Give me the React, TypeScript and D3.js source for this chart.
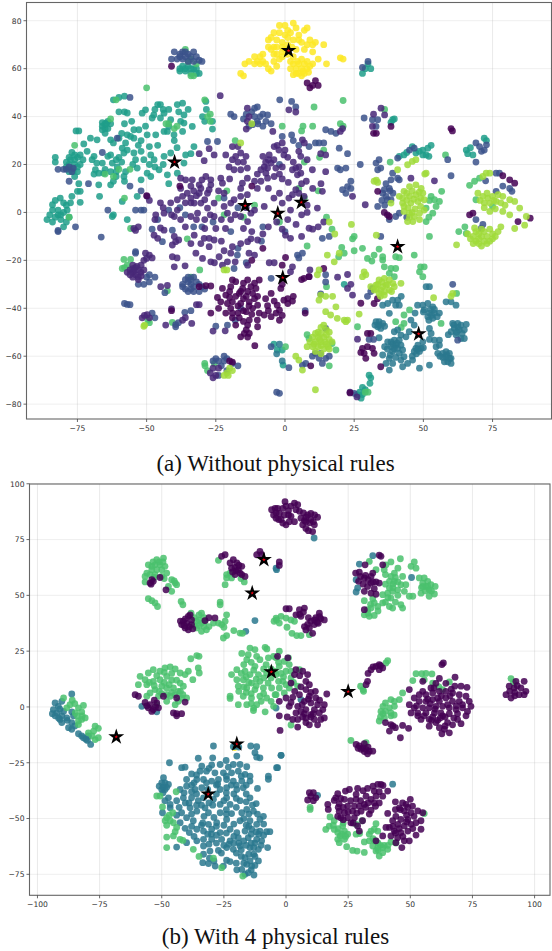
import React from "react";
import * as d3 from "d3";

type P = number[];
const yellowA: P[] = [[-4,69],[-3,72],[-2,75],[-1,71],[0,74],[1,76],[3,79],[4,77],[0,78],[-3,66],[-2,64],[-1,67],[1,70],[3,72],[5,74],[6,71],[8,70],[9,72],[10,70],[7,76],[8,77],[14,70],[4,68],[3,65],[-5,73],[-5,68],[-6,72],[-4,63],[-13,63],[-14.5,62],[-11,65],[-10,63],[-9,65],[-8,63],[-7,62],[-6,60],[-5,59],[-8,66],[-16,58],[-15,57],[3,62],[4,60],[5,62],[6,60],[7,62],[8,60],[9,61],[10,62],[5,58],[6,57],[4,58],[7,58],[8,63],[12,64],[15,62],[20,64.5],[21,64],[10,67],[2,63],[3,57.5],[-1,69],[1,73],[-3,69],[0,68],[-4,75],[-2,78],[2,75],[5,72],[7,68],[11,71],[-6,69],[-4,66],[-3,61],[-9,62],[-11,62],[4.5,63],[6,64],[8.5,58.5],[2,60],[6.5,59],[-1,65],[1,66],[2.5,69]];
const limeA: P[] = [[-12,37],[-16,29],[43,8.8],[45,10.8],[47.3,11.5],[49.2,10],[42.5,6],[45,6.7],[47.3,7.4],[49.8,8],[43,2.5],[45.5,3.9],[48,4.6],[50.3,5.3],[43,0.4],[45,-0.3],[46.7,-1.7],[48.6,-0.3],[46.2,-3.8],[44.3,-3.8],[48.6,-3],[50.3,1],[41.3,6.7],[42.5,3.9],[51,16.4],[50.5,16],[46,21.3],[44.3,19.9],[47.3,22],[40.7,17.8],[32.2,13],[33.5,12.5],[33,13.5],[38.3,3.9],[72.7,16.4],[71.5,15],[74,16.4],[69.7,8],[71.5,6.7],[73.3,6],[75,6.7],[77,7.4],[78.7,6.7],[81.2,5.3],[83,4.6],[74,3.9],[76.3,4.6],[72,4],[74,0.4],[78.7,0.4],[84.8,1.8],[81.2,-1],[87.2,-1.7],[67,-11],[68,-10],[69,-12],[70,-9],[71,-10],[72,-8],[73,-10],[74,-7],[75,-9],[70,-13],[72,-12],[74,-12],[76,-10],[77,-8],[69,-8],[66,-9],[62,-13.5],[71,-7],[78,-6],[68,-13],[71,-14],[83,-6.7],[86.6,-5.3],[32.9,-30.3],[34,-28.2],[35.9,-27.5],[37.7,-28.2],[39,-29.6],[32.2,-32.4],[34,-33.8],[35.9,-34.5],[37.7,-32.4],[35.3,-31],[36.5,-30.3],[39.5,-31],[41.9,-29.6],[28.6,-24.8],[28,-26.8],[29.2,-26],[34.6,-32.4],[33.5,-30],[36,-33],[53.7,-35.6],[60.6,-33.8],[60,-35],[26.8,-42.4],[19.6,-17],[15.3,-17.8],[17.8,-20.6],[12.3,-24],[11.7,-26],[12.9,-34.5],[14.7,-35],[17.2,-35],[12.3,-36.6],[18.4,-39.4],[14.7,-41.4],[16.5,-42.8],[18.9,-44.2],[21.4,-44.9],[22.6,-44.9],[22,-45.6],[12,-50],[13,-48],[14,-47],[15,-49],[16,-50],[10,-52],[12,-52],[14,-52],[16,-53],[9,-54],[11,-54],[13,-54],[15,-55],[17,-54],[8,-56],[10,-56],[12,-56],[14,-57],[16,-57],[11,-58],[13,-59],[11,-74],[3.9,-60],[5,-61.6],[6.3,-65.8],[-19,-66],[-20,-65],[-21,-67],[-22,-68],[-20.5,-68],[-21,-24],[-22,-24],[-50.7,-47],[-51,-47.5],[33,-9.5],[24,-5],[18,-9],[16,-4],[44,8],[46,9],[48.5,8.5],[44,5],[46.5,5.5],[49,6],[44.5,2],[47,1.5],[49,2.5],[46,0],[45,-2],[70.5,5],[73,8],[75.5,5],[78,4],[72,2],[76,1.5],[79.5,3],[70,-11],[73,-13],[75,-11],[68.5,-6.5],[33,-32],[35,-29],[37,-30],[38.5,-33],[34.5,-35],[31,-31],[11,-50.5],[13,-50.5],[15,-51],[12.5,-53],[14.5,-54],[10.5,-55],[13,-55.5],[15.5,-56]];
const greenA: P[] = [[-50,52],[-33,57],[-34,57],[-35,63],[-34,64],[-36,68],[-32,62],[-63,39],[-61,47],[-29,47],[-27,41],[-27,38],[-28,40],[-40,35],[-39,36],[-42,37],[-43,37],[-58.2,-19.6],[-58.8,-23.4],[-57,-22],[-55.8,-19.6],[-58,-23],[-30.8,-24],[-34,-27],[-35.3,-11],[-42.5,-32.7],[-40.7,-45.9],[-49,-46],[-49.5,-45],[-55.8,-6.7],[-28.9,-64],[-28,-66],[-25.5,-63],[-29,-63],[-22,-1],[-15,-2],[-18,30],[-21,9],[-24,6],[-11,3],[-58,6],[-56,18],[-60,18],[-62,15],[-65,16],[-78,-2],[-76,28],[10.5,44],[21,46.7],[36,43],[-1,36],[10,36],[6.5,36],[6,34],[21,36],[20,37],[12.5,23],[14,26],[5,10],[12,9],[7,6],[15,-2],[17,-7],[7,21],[38,21],[-2,-4],[52.2,5],[52.8,6.7],[54,5.3],[55.8,4.6],[56.6,8.8],[54.6,2.5],[51,1.8],[53.4,-0.3],[51,-3.8],[52,-2],[68.5,13],[66.7,11.3],[70.3,14.3],[69,5.3],[75,2.5],[62.8,-8],[65,-6],[65.5,-8.8],[58,24],[24.4,-11],[25,-10],[20.5,-14.6],[21.4,-17],[25,-16],[28,-15],[19.4,-18.5],[29.8,-19.2],[32.2,-17.8],[34,-15.3],[35.3,-18.5],[35.3,-19.9],[31.4,-20.3],[40,-18.5],[41.3,-18.9],[46.7,-17.8],[52.2,-10],[35.9,-22.7],[38.3,-23.4],[40,-23.4],[37.7,-25.4],[39.5,-26.8],[49,-22.7],[50.3,-22.7],[48.6,-24.8],[49.8,-26.8],[26.2,-47.7],[43,-42.8],[45,-40.7],[62,-33.8],[56.4,-46.3],[43,-46.3],[40,-45.6],[8,-51],[8.7,-52.6],[18.4,-57.4],[17,-54.7],[0.2,-56],[16,-64],[15,-31],[8,-14],[29,-75],[30,-75],[42,-48]];
const tealA: P[] = [[-75.5,34],[-74.5,34],[-72.7,28.6],[-70.3,31],[-67.9,30.3],[-65,37],[-64,38],[-66,36],[-64,35],[-65,35],[-63,37],[-66,37.5],[-62,47],[-60,48],[-58,48.5],[-60,42],[-58,42],[-57,41.5],[-55.4,38],[-58,37],[-77.5,22],[-76,22],[-78,20],[-76,20],[-74,20],[-77,18],[-75,19],[-78,23],[-76,24],[-79,19],[-75,17],[-73,22],[-74,24],[-83,23],[-83,21],[-76,15],[-71.5,25.5],[-69,23.4],[-69.7,22],[-68,20.6],[-66,20.6],[-64,23.4],[-63,24],[-62.4,20.6],[-61,22],[-60.6,19],[-63,17],[-61,17],[-65.5,16.4],[-67.3,16.4],[-69,16],[-68.5,17.8],[-67.3,11.5],[-63,11.5],[-62,13],[-61,15],[-58.2,15],[-58,13],[-57.6,17],[-63,30.3],[-62,29],[-57.6,29],[-58.8,26.8],[-57,26],[-58.2,24.8],[-54.6,24.8],[-52,25.5],[-54,22],[-51,22],[-49,27.5],[-49.8,32.4],[-46.7,32.4],[-50.4,36],[-52.8,34.5],[-54.6,34.5],[-57,32.4],[-55.8,31.7],[-54.6,31],[-46,28],[-48.5,24],[-47.3,22],[-43.7,23.4],[-49.8,16.4],[-48.5,15],[-45.5,17.8],[-42.5,15.7],[-42,12],[-53.4,18.5],[-52,13.6],[-53.4,6.7],[-58.8,4.6],[-67,6.7],[-74.5,12],[-75,8.8],[-74,8.8],[-74,4.2],[-77,6.7],[-81.2,6],[-84,3.2],[-84,1],[-78.7,1],[-80,0],[-77.5,4],[-79,3],[-62.4,-1.7],[-62,-1],[-57,-3],[-51.6,41.4],[-50.4,42.8],[-47.4,40.7],[-48,39.4],[-46,45],[-45,45],[-43.7,41.4],[-45,39.4],[-41.3,38.7],[-38.9,45],[-37,45.6],[-38.4,42],[-36.5,40.7],[-37.7,38],[-36.5,37.3],[-33.5,35.9],[-28.6,46.3],[-28.4,43],[-29.8,40],[-29,38],[-26.2,38],[-26.2,34.8],[-40.1,32.4],[-40,30],[-37,33.8],[-32.9,27.5],[-35.9,24],[-34,24.5],[-36.5,20.6],[-41.3,24.8],[-42.5,33.8],[-42,35.9],[-43.7,33.8],[-38.9,16.4],[-38,60],[-37,61],[-36,60],[-35,61],[-34,60],[-33,60],[-38,59],[-36,59],[-34,58],[-32,60],[-31,58],[-32,58],[-83,-2],[-82,-1],[-81,-3],[-80,-6],[-78,-2],[-86,-3],[-85,-1],[-84,-4],[29,60],[30,62],[28,58],[31,60],[38.9,38.7],[38.3,37.6],[39.5,39],[46,27.5],[47.3,24.8],[48.5,25.5],[49.8,24],[51,24],[52,23.4],[49.8,26],[41.3,23.4],[43,24],[44,25],[52.8,28],[51.6,26.8],[65.5,26],[66,24.5],[67,27],[67.9,24],[72,31],[72.8,30],[-0.7,-63.7],[-2.8,-57.4],[-1,-57.4],[-4,-55],[21.4,-30],[27,-75],[28,-73],[29,-74],[28,-76],[27.5,-77.5],[26,-76],[30.4,-67.9],[31,-69],[30.7,-71.3],[-65,33],[-66,34.5],[-64.5,37],[-76.5,17],[-78,17],[-79,21],[-77,25],[-75,23],[-60,23],[-65,18],[-59,21],[-55,20],[-47,19],[-44,20],[-53,28],[-60,31],[-59,33],[-49,20],[-52,30],[-42,43],[-44,43],[-47,43],[-35,43],[-39,27],[-82,1],[-81,-1],[-79,-4],[-83,5],[-80,4]];
const cyanA: P[] = [[35.3,-38.7],[37.1,-38],[38.9,-36.6],[40.7,-36.6],[42,-35],[40,-38.7],[41.3,-38.7],[37.7,-42.1],[32.9,-45.6],[34,-45.6],[35.3,-46.3],[33.5,-47.7],[34.6,-48.4],[34,-52.3],[47.9,-38.7],[49.8,-38.7],[51.6,-38],[53.4,-39.4],[50.3,-40.7],[52.2,-42],[54,-42],[55.8,-42],[51.6,-43.5],[53.4,-44.2],[47,-42],[52.2,-31],[51,-31],[58.2,-37.3],[60,-37.3],[61.8,-38.7],[45.5,-44.9],[46.7,-47],[44.9,-49.8],[43.7,-51.9],[52.2,-48.4],[52.8,-50.5],[52.2,-53],[49.8,-54],[54,-53.3],[55.8,-53.3],[55.8,-55.4],[54.6,-56],[60.6,-46.3],[62.4,-46.3],[63.6,-47],[65.5,-46.7],[61.2,-48.4],[63,-49],[64.8,-49],[60,-49.8],[61.8,-51],[59,-51],[63.6,-52.6],[64.8,-52.6],[58.2,-58.1],[59.4,-58.8],[57,-58.8],[55.2,-58.8],[58.2,-60.2],[60,-60.9],[58.8,-62.3],[60,-63],[57.6,-62.3],[48.6,-65],[52.2,-63.7],[46.1,-61.6],[46,-60],[49.2,-56.7],[47.3,-56.7],[48.6,-58],[46.7,-58],[48,-55.4],[41.3,-53.3],[39.5,-53.3],[38.3,-54],[37.1,-54],[41.9,-55.4],[40,-55.4],[38.3,-56],[40.7,-56.7],[42.5,-57.4],[38.9,-58],[41.3,-58.8],[43,-60.2],[41.9,-61.6],[44.3,-63],[42.5,-64.4],[37.7,-65.8],[35.3,-59.5],[37.7,-60.9],[38.9,-63],[36.5,-63],[39.5,-49.8],[41.9,-51.2],[40.7,-49],[-1,-62],[-3,-59],[-2,-55],[39,-55],[40.5,-54.5],[39.5,-57],[37,-57],[36,-56],[38,-59.5],[40,-60.5],[50,-41.5],[52.5,-40.5],[54,-40.5],[52,-45],[53,-43],[55,-43.5],[62.5,-48],[61,-47],[64,-50.5],[62,-50],[58.5,-59.5],[59.5,-61],[57,-60.5],[56,-60],[47.5,-59],[48,-57],[50,-56.5],[34,-47],[32.5,-47],[36,-47.5]];
const blueA: P[] = [[-40,67],[-38,66],[-37,67],[-36,67],[-35,66],[-33,67],[-37,64],[-38,65],[-35,63],[-33,63],[-31,63.5],[-30,63],[-56,48],[-82,18],[-80,18],[-79,18],[-78,19],[-77,17],[-76.5,18.5],[-71,12],[-78,13],[-60.6,31],[-66,25],[-56,11],[-52,9],[-54,1],[-52,1],[-51,1],[-64,1],[-28,29.6],[-24.4,29.6],[-19.6,41],[-18.4,40],[-11,43.5],[-10,44],[-11,40],[-9,40],[-11.7,36.6],[-9.8,37],[-6.9,38],[-5,37],[-8,41],[-6.3,40.7],[-13,36],[-15,39],[-1.9,47],[2.4,46.3],[3.9,44],[28.6,39.4],[32.9,35.9],[31.6,38.7],[33.5,38.7],[14.7,34.5],[16.6,33.8],[18.4,33],[-1,31.7],[2.4,32.3],[8.7,27.5],[11,29],[12.3,29],[14,29],[19.6,26.8],[22.6,24.5],[19,18.5],[20,17.8],[22,18.5],[23.8,13],[23.8,10],[22.6,10.8],[20.8,9.5],[22,8],[27.2,20],[32.9,20.6],[34,22],[34.6,18.5],[33.5,17.8],[38.9,16.4],[38.3,13.6],[41.3,13.6],[40.7,22.7],[45,26],[46.7,26.8],[35.9,9.5],[37.7,10],[39,8],[36.5,6.7],[38.3,5.3],[35.3,8],[33.5,2.5],[60,15.3],[58.8,22],[69,29],[72,26],[71,25.5],[72.8,28.2],[70.3,27.5],[69,21],[76.3,16.4],[77.5,16.4],[78.7,11],[81.2,10],[82,8.8],[76.3,8.8],[72.5,13.2],[69,-3],[70.9,-6.7],[71.5,-5],[40.7,14.3],[37,5.3],[40,-1.7],[41.3,-0.3],[44,-2],[37.7,-3],[28,60.5],[30,63],[-82,-8],[-82,-7.5],[-66.4,-10.3],[-75.7,-6],[-44.3,-12.2],[-40.7,-7.4],[-50,-27],[-49,-29],[-51,-30],[-47,-27],[-49,-26],[-53,-30],[-54,-16.4],[-54,-17],[-35,-27],[-33,-27],[-32,-29],[-34,-30],[-36,-28],[-37,-30],[-31,-30],[-30,-31],[-29,-32],[-33,-33],[-31,-33],[-35,-33],[-36,-32],[-43.4,-33.5],[-57,-38.4],[-56,-38.5],[-58,-38],[-36.2,-41.7],[-39.5,-47.7],[-39.5,-46.8],[-38.5,-46],[-47,-44],[-48,-42],[-20.8,-47],[-25,-47.5],[-22,-60],[-24,-62],[-25,-61],[-26,-62],[-23,-64],[-22,-62],[-21,-66],[-19,-63],[-24,-68],[-21,-61],[-17,-64],[-3,-75],[-2,-75.5],[-5,-56],[-5,-27.5],[-17.2,-17.8],[-18.4,-23.4],[-17,-15],[-8.5,-12],[-19.6,-8],[-16,-40],[-18,-45],[11,-58.8],[12.9,-58.8],[9.9,-60],[12.3,-60.9],[14.7,-60.9],[16,-60],[14.7,-48.4],[13.5,-63],[6.3,-63.7],[7.5,-63],[1.4,-64.8],[14.7,-26],[14.7,-29],[29.8,-35],[31.6,-31.7],[31,-33],[30.4,-53],[32,-53],[25,-75.5],[62.4,-53.3],[60.6,-30],[12.9,-34],[7.3,-41],[4.5,-17.8],[6.3,-17],[5,-19],[13.5,-10.8],[16,-10],[34.6,-10],[0,-8],[-34,-41],[-36,-1],[-46,-3],[-30,-6],[-26,-4],[-10,38],[-8,36],[-12,42],[-14,41],[-39,64],[-36,65],[-34,65],[-32,65],[-41,64],[-37,-31],[-34,-28],[-33,-31],[-34,-32],[-35,-29],[-2,20],[-14,-21],[-38,2],[-42,1],[-48,-7],[-33,-6],[-17,2],[-22,6],[-8,-6],[3,30],[5,28],[36.5,12],[35,5],[38,9],[36,3]];
const indigoA: P[] = [[-31,24.5],[-29.2,21.6],[-27.4,26.6],[-25.6,24],[-20.2,19],[-18.4,17.8],[-16,17.8],[-13.6,18.5],[-19,27.5],[-17,27.5],[-14.1,23.4],[-16,24.8],[-17.8,23.4],[-21.4,24],[-15.4,12.2],[-13.6,14.3],[-11,13],[-8.7,13],[-6.9,16.4],[-8,23.4],[-5.7,24],[-3.9,27.5],[-5,20.6],[-3.3,18.5],[-6.3,18.5],[-7.5,19],[-8.7,17.8],[-6.3,14.3],[-3.9,15],[-28.6,15],[-30,13.6],[-26.8,13.6],[-26.8,11.5],[-23.2,14.3],[-22.6,12.2],[-30.4,10],[-31,11.5],[-33.5,13.6],[-35.9,13.6],[-37.7,14.3],[-27.4,9.5],[-37.7,10],[-37,6.7],[-38.9,5.3],[-35.3,8],[-34,6],[-32.8,3.9],[-30.4,3.9],[-29,5.3],[-28,1.8],[-25.6,3.9],[-22,2.5],[-19.6,3.9],[-18.4,5.3],[-16,6.7],[-13.6,7.4],[-10,10],[-11,1],[-7.5,2.5],[-20.8,-0.3],[-19.6,-3],[-16,-1.7],[-12.3,-0.3],[-13.5,-3.8],[-45,4],[-41.3,4],[-38.9,1],[-43.7,-0.3],[-40,-1.7],[-37.7,-3],[-31.6,-0.3],[-34,-1.7],[-25.6,-1.7],[-29,-3],[-46.7,-1],[-49.8,6.7],[-49,5],[-23.4,48.7],[-13.6,43.5],[-13,40],[-13.6,38],[-14,34.8],[-4.4,33.8],[3.9,41.9],[1.4,42.8],[20,33.8],[20.8,35],[32,41],[34.7,43.5],[36,40.7],[31.6,35.9],[6.3,30.3],[7,29],[-2.8,28],[-2.2,26],[0,26],[-0.4,24],[1,23],[5,25.5],[5.7,23.4],[8,22],[12.9,24.5],[14.7,24],[3.9,18.5],[5,19],[5.7,16.4],[2.7,17.8],[4.5,15.7],[9.9,17.8],[14.7,17],[1.2,12.5],[7.7,13],[3.9,9.5],[5,8],[2.7,7.4],[1.4,6],[6.9,6.7],[-1,3.9],[11.7,1.8],[13.5,8.8],[24.4,6.7],[29,3.2],[45.5,14.3],[54,13.2],[-1,29],[-1,19],[-1,14],[-55,-22],[-54,-23],[-53,-24],[-56,-24],[-55,-25],[-54,-26],[-52,-25],[-53,-27],[-51,-24],[-55,-27],[-57,-25],[-52,-22],[-53,-28],[-50.4,-17],[-49,-17.8],[-48,-19],[-50,-19.2],[-51,-20],[-54.6,-6.7],[-54,-7.5],[-53,-6],[-47.3,-9.5],[-46,-10.8],[-43.7,-7.4],[-45,-6.5],[-40.7,-13.6],[-39.5,-12.2],[-38.4,-11.5],[-32.8,-9.5],[-29.2,-10.8],[-27.4,-10.8],[-25.6,-11.5],[-32.2,-17],[-29.8,-19.2],[-40.7,-18.5],[-39,-19],[-40,-22.7],[-36.1,-22.3],[-30.4,-13],[-27.4,-14.3],[-23.8,-18.5],[-26.8,-20.6],[-25.5,-21],[-22.6,-22],[-20.8,-20.6],[-19,-14.3],[-19.6,-17],[-18,-20.6],[-13.5,-12.2],[-12.3,-11],[-9.9,-11.5],[-11,-17.8],[-13.5,-22],[-5.7,-21],[-3.9,-21],[-23,-12],[-21.5,-6.7],[-25,-6.7],[-29,-6.7],[-15,-6.7],[-12,-8],[-44.9,-31],[-42.5,-30.5],[-31,-38.5],[-32,-38.5],[-41,-40.3],[-36,-43.9],[-37,-45],[-33.7,-46.3],[-49.8,-42.7],[-51.6,-44],[-49,-44],[-50.8,-43],[-43.1,-47],[-26,-49.5],[-21.6,-49.4],[-26,-65],[-25,-68],[-24,-65],[-27,-67],[-26,-69],[8.7,-26.8],[9,-24],[22.6,-25.9],[23.8,-30],[22.6,-31.7],[24.4,-34.5],[19,-27],[2.7,-22.7],[2,-24.8],[23.5,-75],[26,-77],[26.2,-52.9],[6,-10],[4,-5],[14,-4],[10,-7],[12,-6],[0.2,-9.5],[2,-10.8],[-1,-7],[-3,-4],[8.7,-6.6],[-55,-23.5],[-53.5,-22.5],[-52,-26.5],[-54.5,-24.5],[-56,-26],[-34,4],[-36,4],[-32,7],[-28,8],[-24,9],[-22,8],[-16,10],[-14,2],[-18,-1],[-23,-3],[-27,-1],[-32,-3],[-41,-1],[-44,2],[-47,-3],[-36,-6],[-40,-10],[-34,-13],[-22,-16],[-16,-13],[-13,-17],[-8,-9],[-6,-6],[-6,10],[-2,8],[-4,6],[2,1],[-6,22],[-4,22],[-2,16],[-10,16],[-7,21],[3,21],[6,12],[10,10],[8,3],[13,12],[1,-3],[6,-1],[8,0],[-34,11],[-33,9],[-31,8],[-17,21],[-15,21],[-19,22],[-20,14]];
const darkA: P[] = [[-41,61],[-38,11],[-50,7],[-12,11],[38.3,35.9],[32,33],[33,33],[60,35],[60.5,34],[81.2,13.6],[83,12.2],[78.7,15.3],[67.9,-0.3],[66.7,-1],[88.6,-2.4],[84.2,-3.8],[33.5,8.8],[37.7,-1.7],[35.9,0],[37,-1],[8,54],[10,53],[12,53],[11,55],[9,52],[6,-28],[6.9,-27.5],[8.7,-26.8],[14,-23.4],[27.4,-37.9],[32.2,-38],[33.4,-36],[7.3,-42],[0.2,-18.8],[-1,-22],[-2.8,-38.7],[-2,-40.8],[-0.4,-36.6],[1,-36],[2.7,-37],[-1.5,-31.7],[-1,-30],[-2,-45],[-1,-43],[1,-38],[3,-35],[9.3,-64],[28,-56.7],[28.6,-58.8],[27.4,-58.4],[29.8,-56],[31.6,-56.7],[32.2,-58.8],[29.2,-60.9],[34.6,-64.4],[29.8,-50.5],[31,-50.5],[23.5,-75.3],[-31,-31],[-28.6,-30.6],[-26.8,-30.7],[-26.8,-42],[-19,-28.2],[-17.8,-28.9],[-19.6,-31],[-22.6,-31.7],[-24.4,-35.5],[-21.4,-34.5],[-23.2,-37.3],[-20.8,-38],[-19,-37.3],[-17.8,-35],[-16.5,-33.8],[-15.3,-31.7],[-13.5,-28.2],[-9.3,-28.2],[-12.3,-31],[-10.5,-31.7],[-13.5,-33],[-11.7,-33.8],[-14,-35],[-9.9,-35],[-12.9,-37.3],[-9.9,-38.7],[-5,-33.8],[-3.9,-37],[-6.3,-38.9],[-16,-38],[-19.6,-40],[-21.4,-42],[-19,-42],[-17,-42],[-14,-41.4],[-11.7,-40],[-9.3,-42],[-7.5,-42.8],[-5,-43.5],[-3.2,-42],[-19,-44],[-16.5,-44],[-12.9,-44.9],[-10,-44.9],[-17.8,-47],[-13.5,-47],[-9.9,-47.7],[-14.7,-50.5],[-12.9,-50.5],[-16,-51.9],[-13.5,-52],[-10.9,-55.6],[-20,-62],[-19,-62.5],[-8,-15],[-41,-41],[-12,-20],[-15,-36],[-17,-39],[-13,-39],[-11,-36],[-15,-41],[-12,-42.5],[-20,-35.5],[-15,-29.5],[-11,-29.5],[-7,-36],[-16,-33],[-6,-41],[-15,-45.5],[-14,-49],[-20,-33],[-24,-40]];

const yellowB: P[] = [[-20.7,-18.2]];
const greenB: P[] = [[-49.3,66.7],[-52,66],[-52.7,63.7],[-55.4,63.7],[-50.7,63.7],[-48.7,63],[-54,61.5],[-52,61.5],[-56,60],[-50,61.5],[-48,60],[-56.7,58.5],[-54.7,59.3],[-52.7,59.3],[-56.7,56],[-46,57],[-44.6,55.5],[-44,54.8],[-47.3,54],[-46,51.8],[-55.4,48.5],[-54,47.6],[-52.7,46.6],[-51.7,45],[-42.2,47.3],[-41.5,45.8],[-26.5,45.8],[-26.5,47],[-38.2,42],[-35,41.3],[-36,38.4],[-34,37.6],[-36,35.4],[-34,33.9],[-32,34.6],[-32.6,38.4],[-29.2,37.6],[-27.2,37.6],[-25.9,36.9],[-23.9,41.3],[-24.5,38.4],[-25,35.7],[-23.9,32],[-25.2,30.9],[-21,34.2],[-18.5,33.1],[-17.5,33],[-4.8,38.4],[-3.8,39],[-27.2,65.7],[-23.9,59.3],[-22.5,60],[-21.9,57.8],[-23.9,57.8],[-18.1,57.5],[-16.8,56],[-24.5,54.8],[33.5,65.2],[42.2,65],[46,66.4],[45,62.2],[51.6,65],[50.3,63],[52.3,62.2],[40.2,63.7],[36.2,61.5],[39.5,61.5],[43.6,60],[46.9,58.5],[42.2,58.5],[40,59.3],[41.6,56.3],[43.6,56.3],[46.2,54.8],[48.2,54.8],[41.6,53.3],[42.9,51.8],[44.9,52.5],[47.6,51.8],[49.6,49.6],[51,49.6],[40.9,51],[42.2,48.8],[38.9,46.6],[41.6,45],[42.9,44.3],[46.2,45.8],[46.9,44.3],[31.5,47.6],[34.9,48.5],[35.5,46.6],[34.2,44.3],[32.8,43.6],[31.5,41.3],[33.5,40.6],[35.5,41],[36.9,45],[38.9,50.3],[53.6,57.8],[55.6,57.8],[57,56.3],[55,55.5],[58.3,54.8],[60,54],[56.3,54],[57.6,52.5],[59.7,50.6],[57.6,49.6],[54.3,51],[56,52],[-2,40.6],[-4,39.8],[0,39.8],[2,39],[3.4,38.4],[-2.7,37.6],[0.4,35.7],[2.4,33],[4.3,32],[6,32],[9.4,32.4],[40.9,20.7],[40.2,19.7],[31,7.8],[30,9.3],[31.2,7],[90.5,12.7],[91.5,11],[54.6,14.9],[52.3,14.9],[58.7,14.8],[55.6,12.2],[59,10.7],[61.5,9],[63,7.8],[65.7,11.2],[51,11.8],[56.3,15],[46.9,6.3],[45.6,3.3],[42.2,3.3],[40,1.8],[39,0.3],[43.6,2.5],[41.6,-0.4],[43.6,0.3],[42.2,-2.7],[40,-2],[38.2,-2],[39,-3],[37.5,-6.3],[39.6,-4.9],[42.2,-4],[43.5,-3.6],[38,-4.5],[26.1,-15],[32.2,-16],[-8.4,26.7],[-7.7,26],[-14.5,26.4],[-12.5,25.7],[-17.8,24],[-15.2,23.4],[-11.8,22.7],[-15.8,21.2],[-10.5,21.2],[-7.1,22],[-5,22.7],[-17,19],[-12.5,18.2],[-19.8,16.7],[-21.9,14.5],[-16.5,16],[-14.5,14.5],[-11.1,14.5],[-7.8,15.2],[-4.4,16],[-19.8,12.2],[-17.2,12.2],[-13.9,10.7],[-10.5,11.5],[-7.2,10.7],[-19.2,9.3],[-15.8,8.5],[-12.5,7.8],[-9.1,8.5],[-5.8,8.5],[-22.5,4.8],[-22.5,3.8],[-17.2,4.8],[-13.9,4],[-10.5,4.8],[-7.8,4],[-4.4,5.5],[-19.2,1],[-15.8,1],[-11.8,1],[-8.4,-2.2],[-13.1,-1.6],[-5,0.3],[-2.7,25],[-4,22],[-0.7,20.4],[1.3,19],[-2.7,18.2],[0,16],[-4,14.5],[2,13],[5.4,16.7],[-1.3,11.5],[4.7,9.3],[1.3,8.5],[-2.7,8.5],[-4,5.5],[-0.7,6.3],[2,-8.1],[-35.9,23],[-35,22.7],[-38.3,21.6],[-58.7,13.7],[-56.7,12.2],[-53.4,16.7],[-55.4,15.2],[-50.7,16],[-48.7,17.5],[-46.6,18],[-44.6,17],[-42.6,15.2],[-39.3,16],[-40.6,14.5],[-35.3,17.5],[-34.9,15.2],[-37.5,12.2],[-59.4,10],[-56,10],[-53.4,11.5],[-50.7,12.2],[-48,13.7],[-42.6,10.7],[-41.3,9.3],[-45.3,8.5],[-43.3,7],[-52.7,7.8],[-50,9.3],[-48,8.5],[-54.7,6.3],[-51.3,4.8],[-46.6,4.8],[-44.6,5.5],[-42,4],[-40,4],[-48,2.5],[-44.6,1],[-43.3,2.5],[-41.5,5.5],[-52,1],[-56,4.8],[-89.5,4],[-86.9,1],[-81.5,0.7],[-83.5,-0.4],[-88.2,-0.4],[-84.8,-2.7],[-82.2,-2.2],[-83.5,-6.3],[-80.8,-4.9],[-82.2,-5.6],[-83.5,-7.9],[-76.8,-8.6],[-75.5,-9.6],[-77.4,-10.8],[-79.5,-11.6],[-75.5,-13.8],[-76.8,-14.6],[-78,-13],[-52,-39.9],[-50.7,-39.9],[-49.7,-44.8],[-48,-49.6],[-46.6,-51],[-48.6,-51],[-45.6,-47.4],[-45.3,-51.9],[-44,-54],[-44.6,-55.9],[-48,-58.3],[-45.3,-57.8],[-42.6,-59.3],[-41.5,-59.8],[-48,-63],[-37.3,-63.8],[-35,-67],[-25.9,-72],[-29.2,-67.8],[-17.4,-75.8],[-44.2,-38],[9.7,-45.9],[9.7,-45],[17.7,-49.3],[16,-54.9],[17.4,-53.4],[19.4,-54.9],[20.8,-56.3],[22.8,-53.4],[23.5,-55.6],[24.8,-57],[21.8,-57.8],[20.8,-59.3],[23.5,-59.3],[21.4,-60.8],[24.4,-62.6],[26.8,-64.3],[28.6,-64.6],[31.5,-65.2],[28.2,-57],[29.6,-56.7],[31.5,-60.5],[33.5,-60],[34.2,-55.6],[33.5,-57],[35.5,-54.8],[36.9,-55.6],[36.2,-52.3],[35.5,-60],[34.9,-62.3],[36.9,-63],[38.9,-63],[40.9,-63.8],[37.5,-66.8],[38.9,-65.3],[36.2,-64.5],[42.2,-60.5],[44.2,-61],[55.6,-47.8],[19.4,-51],[30.6,-51],[28.2,-52.6],
[-53.5,65],[-51,65],[-54,63],[-49.5,65],[-50,58.5],[-49,57.5],[-53,58],[-45,56.5],[-34,42],[-37,40],[-35,39],[-33,36],[-35,36.5],[-37,36.5],[-33,40],[-31,36],[-14,20],[-13,16.5],[-16,13.5],[-18,15],[-15,11],[-12,12.5],[-9,13],[-8,19],[-6,17],[-9,17],[-6,13],[-3,11.5],[-9,6],[-12,9.5],[-14,6],[-16,6.5],[-19,7],[-17,9],[-10,2.5],[-6,2.5],[-14,1.5],[-1,13.5],[2,16],[0,10],[3,11],[-3,20],[-2,15],[1,22],[-13,-0.5],[43,55],[45,50],[43,53.5],[45,56],[40,55],[41,49],[40,47],[44,58],[44,47],[54.5,53.5],[57,54],[58.5,52],[55,54],[37,43],[33,42],[34,46],[-46,12],[-46,15],[-44,12],[-49,11],[-52,14],[-55,11],[-47,10],[-50,6],[-46,6.5],[-48,5.5],[-51,7],[-53,9.5],[-49,15.5],[-42.5,7],[21,-54.5],[22.5,-57],[24,-58],[19,-53],[23,-52],[36,-60],[37,-61],[38,-62],[39.5,-62],[37,-64],[35,-59],[41,-62],[-86,3],[-85,1.5],[-84,-4],[-82,-4],[-48,-53],[-47,-48.5]];
const cyanB: P[] = [[-16.2,33.9],[-12.5,38.7],[-4,62.2],[-4,-0.5],[34.9,67.8],[28.2,57],[28.8,53.3],[28.2,51.5],[29.5,64],[50.5,58],[11.3,75.7],[-3.8,61.5],[6,3.3],[-2,-21.7],[-3.4,-27.2],[-58,0.3],[-52,-2.2],[-86.2,5.8],[-90.2,2.5],[-92.9,1.8],[-91.6,0.3],[-93.6,-1.2],[-92.2,-2.7],[-86.2,-2.2],[-94,-3],[-92.9,-4],[-90.9,-5.6],[-90.2,-7],[-86.2,-7],[-87.5,-9.3],[-86.2,-10],[-83.5,-12],[-81.5,-13.8],[-79.9,-15],[-78.6,-16.8],[-82.2,-13],[-79.5,-13],[-88.2,-4.9],[-85.5,-4],[-90.2,-4],[-46.9,-25],[-49.3,-31.7],[-50,-34],[-51,-35.5],[-48.7,-34],[-50,-37],[-48.7,-37],[-47.3,-34.7],[-49.5,-38.5],[-47.3,-40.7],[-48.7,-42],[-46.6,-45.2],[-49.7,-47.4],[-35.3,-23],[-29.2,-17.5],[-29.5,-22.8],[-24.1,-24],[-20.5,-17.5],[-19.8,-22],[-14.2,-17.5],[-11.8,-17.8],[-12.5,-20.5],[-11.8,-22.5],[-10.5,-22.8],[-7.1,-31],[-7.1,-32.4],[-3.8,-27.2],[-42,-27.2],[-40.6,-27],[-33.9,-26.5],[-29.9,-26],[-26.5,-25.8],[-23.2,-27],[-21.2,-25.8],[-18.5,-25.8],[-15.8,-26.8],[-38,-30],[-34.6,-28.8],[-32,-28.8],[-28.6,-29.5],[-25.2,-29.5],[-21.9,-29.5],[-19.2,-28.8],[-16.5,-30.2],[-14.5,-31],[-40,-32.5],[-35.9,-32.5],[-33.2,-32.5],[-29.9,-33.2],[-27.2,-32.5],[-23.9,-32.5],[-21.2,-33.2],[-17.8,-33.2],[-14.5,-33.2],[-42.6,-37],[-40,-35.5],[-36.6,-37],[-33.9,-36.2],[-26.5,-37],[-23.9,-36.2],[-19.8,-37],[-17.2,-36.2],[-11.5,-36.5],[-14.5,-40.7],[-44,-42],[-41.3,-40.7],[-38,-40.7],[-35.3,-42],[-33.2,-40.7],[-29.2,-41.4],[-26.5,-43.7],[-22.5,-43.7],[-18.5,-42],[-23.9,-40.7],[-12,-43.3],[-46.6,-43.7],[-42,-47.4],[-38.6,-45.2],[-35.9,-46.7],[-32.6,-45.2],[-31.2,-47.4],[-26.5,-47.4],[-21.9,-47.8],[-17.8,-47.4],[-15.8,-45.9],[-13.1,-46.7],[-9.1,-49],[-10.5,-50.4],[-40,-49.6],[-37.3,-51],[-42.6,-51.9],[-31.2,-52.6],[-27.9,-51.9],[-23.9,-50.4],[-18.5,-51],[-14.5,-51],[-11.8,-52.6],[-40.6,-54.4],[-35.9,-54.8],[-33.2,-55.6],[-29.9,-54.8],[-26.5,-56.3],[-22.5,-54.8],[-19.8,-56.3],[-16.5,-55.6],[-13.8,-54.8],[-10.5,-55.6],[-7.8,-55.9],[-6.5,-55.9],[-38.9,-56.3],[-40,-60.8],[-35.9,-60],[-33.2,-59.3],[-29.9,-59.3],[-25.9,-59.3],[-22.5,-60],[-19.2,-58.6],[-15.2,-58.6],[-11.8,-59.3],[-9.8,-60],[-12.5,-61],[-33.2,-62.3],[-30.6,-64.6],[-27.2,-64.3],[-23.9,-63],[-21.2,-63.8],[-18.5,-62.3],[-14.5,-63],[-11.1,-63.8],[-7.4,-63],[-44,-62.8],[-33.2,-66],[-30.8,-67.8],[-33.5,-69.8],[-31.2,-70.2],[-28.5,-71.3],[-23.9,-68.7],[-22.5,-69.3],[-25.2,-71.3],[-16.5,-67.5],[-14.5,-69],[-11.1,-69],[-15.8,-70.5],[-13.8,-71.3],[-19.8,-73],[-17.8,-72.8],[-15.2,-74.3],[-12.9,-75.3],[-16.5,-75],[-21.2,-17.8],[-19,-18],[-38,-35],[-36,-39],[-31,-43],[-28,-35],[-24,-46],[-20,-35],[-16,-53],[-12,-56],[-17,-60],[-21,-61],[-25,-62],[-30,-57],[-34,-53],[-39,-43],[-15,-66],[-13,-66],[-11,-57],[-18,-67],[-16,-62],[42.9,-34.6],[12.7,-39.6],[-2,-21.7],
[-31,-27.5],[-36,-30.5],[-24,-31],[-18,-31],[-37,-34],[-32,-34],[-27.5,-34.5],[-22,-35],[-16,-35],[-41,-38.5],[-38,-38],[-31.5,-37],[-28,-39],[-24,-38.5],[-21,-39],[-16,-39],[-43,-45],[-40.5,-43],[-36,-44],[-34,-44],[-29.5,-44],[-25,-42],[-20,-41],[-16,-42.5],[-13.5,-44],[-44,-48.5],[-38,-48],[-33,-49],[-29,-49.5],[-24,-48],[-20,-45],[-15,-48],[-11.5,-48],[-38,-53.5],[-33.5,-52],[-28,-53.5],[-25,-53],[-21,-52.5],[-17,-50],[-15,-53.5],[-9,-52.5],[-37,-58],[-31.5,-57],[-28,-57.5],[-24,-56.5],[-21,-58],[-14,-57],[-9,-57.5],[-28,-61],[-23,-61.5],[-19,-61],[-14,-61],[-10,-62],[-31,-61.5],[-26,-65.5],[-20,-65.5],[-13,-63],[-12.5,-67],[-17,-70],[-14,-73],[-29,-69],[-12.5,-71],[-20,-70],[-18,-64],[-91,-1],[-89.5,-2],[-88,-6],[-91.5,-5],[-85,-8.5],[-80.5,-14.5],[-49.5,-36],[-48,-36]];
const darkB: P[] = [[-54.7,55.5],[-53.4,56.3],[-50.7,58],[-48.3,52.5],[-54,57],[-54.3,55],[-39.3,40.6],[-41.3,38.4],[-40,37.6],[-38,39],[-42,36.9],[-39.3,34.6],[-40.6,35.4],[-38,36.9],[-38.6,41.3],[-42.5,38.5],[-32.6,38.7],[-28.6,39.9],[-31,40],[-24.5,68.2],[-25.9,67.5],[-21.2,66],[-22.5,64.5],[-19.8,64.5],[-17.8,63],[-21.9,62.2],[-19.2,61.5],[-20.5,59.3],[-17.8,59.3],[-16.5,58.5],[-10.5,69.7],[-11.8,68.2],[-9.8,68.2],[-5.8,88.4],[-4.4,89],[-5,86],[-4,84.6],[-0.4,92],[3.4,91.3],[4.7,90.6],[4,88.4],[-3.4,89],[-1.3,89],[-2.7,86.7],[-0.7,86],[2,85.4],[-1.3,82.4],[0,81.6],[3.4,83],[6,84.6],[6.7,81.6],[8,80],[8.7,86],[10,86.7],[10,84],[12.7,85],[11.4,81.6],[10.7,78.6],[7.4,83.5],[5.4,87.7],[1.3,83],[-2.7,65],[-2.7,63.4],[38.2,67.5],[37.5,68],[31.8,63.7],[29.5,60.4],[28,60],[34.9,60],[34.2,58.5],[31.5,57.8],[29.2,56.3],[36.2,56],[37.5,55.5],[34.2,55.5],[32.8,54],[31.5,51.8],[38.9,63.7],[31.5,43.6],[34.2,51],[36.2,50.5],[0,44],[1.3,44],[5.4,43.6],[7.4,44.3],[4,41.3],[6,40.6],[13.4,42],[12,40],[14,39.6],[15.4,39],[10,38.4],[7.4,36],[9.4,35.4],[11.4,36.9],[10.7,33],[12.5,38],[8.7,37],[37.5,19],[36.2,18.2],[34.2,16.7],[38.9,17.5],[32.8,11.5],[32.2,10],[37.5,16.7],[95.8,11.5],[92.5,11.5],[89.8,9.3],[91.8,8.5],[94.5,8.5],[96.5,7],[88.5,5.5],[90.5,4],[93.8,5.5],[95.8,5.5],[63.3,19.7],[62.7,19],[68,13.3],[61.7,12.8],[60.3,10.6],[58.3,8.5],[64.3,10.6],[67.9,9.3],[70.4,9.3],[72.8,8.8],[55,11.5],[49.6,7.8],[51.6,4],[53.6,5.5],[56.3,5.5],[59,6.3],[61.7,7],[64.3,7],[67,6.3],[69.7,5.5],[72.4,4.8],[73.7,2.5],[74.4,0.3],[53.6,2.5],[56.3,2.5],[59,3.3],[61.7,2.5],[64.3,4],[67,2.5],[69.7,2.5],[71,-0.4],[49.6,1],[51.6,-0.4],[55,-0.4],[57.6,-0.4],[60.3,0.3],[63,0.3],[65.7,-0.4],[68.4,-1.2],[50.3,-2.7],[53,-2.7],[56.3,-2.7],[59.7,-2.7],[62.3,-2.7],[65.7,-3],[69,-3],[73,-2],[53,-4],[54.3,-5.6],[57.6,-5.6],[57.6,-8.6],[60.3,-7],[61.7,-9.3],[63.7,-10],[65,-7],[67,-8],[69,-5.6],[70.4,-7.5],[72.4,-4],[62.7,-12],[65.7,-11.6],[59,-4.5],[64,-4.5],[63,-4],[40,-7],[42.2,-7.9],[44,-9.3],[46.9,-8.3],[49.3,-9.6],[41.6,-10.8],[46,-13.8],[43,-8.5],[28.2,-16.8],[29.5,-17.5],[30.9,-18.3],[32.2,-19],[33.5,-19.8],[34.9,-19.8],[32.8,-21],[30.2,-19],[31.5,-16.5],[29,-18.5],[0.7,22],[-3.4,22.7],[4,16.7],[6.7,16],[8.7,14.5],[3.4,14.5],[8,11.5],[9.4,10],[11.8,7],[8,7.8],[2,10.7],[16.4,5.8],[12,4],[9.4,4.8],[5.4,5.5],[2.7,4.3],[0,4],[-2.7,2.5],[7.4,2.5],[10,1.8],[12.7,1],[15.4,1],[14.8,-1.2],[11.4,-1.2],[8,-1.2],[4.7,0.3],[1.3,0.3],[4,-2.7],[7.4,-3],[10,-3.4],[13.4,-2.7],[-2.7,-4],[0.5,-4.5],[2.7,-5.6],[4.7,-5.6],[4.7,-9],[8,-7],[9.4,-8],[11.4,-5.6],[12.7,-8],[14,-5.6],[15.4,-4.9],[-2.4,-10.5],[6.7,-4.5],[10,-4.5],[-60.7,5.5],[-59.4,4.8],[-56.7,2],[-54.7,1],[-52,1.8],[-55.4,-0.4],[-53.4,-1.2],[-51.3,-0.4],[-49.3,4.8],[-44,4],[-40.6,2.2],[-45.3,-2.7],[-44,-3],[-42,-3],[-44,-4],[9.4,-38.4],[11,-38.4],[10,-40],[12,-40.7],[11,-42],[8.7,-41.7],[36.9,-34.7],[38.2,-34.7],[39,-35.2],[32.8,-36.5],[28.8,-36.5],[25.5,-37],[23.9,-37.7],[20.8,-38.9],[40.9,-37.7],[35.5,-37.7],[37.5,-38],[38.9,-40],[36.2,-40],[28.2,-39.2],[20,-40.7],[23.5,-41.4],[28.2,-41.4],[32.2,-40],[34.2,-41.4],[19.4,-41.9],[37.5,-43],[35.5,-43],[29.5,-44.4],[31.5,-43.7],[27.5,-44.4],[24.8,-44.4],[21.4,-43.4],[16.8,-43.7],[17,-45.9],[34.2,-46.3],[33.5,-48],[30.2,-46.7],[26.8,-46.7],[23.5,-47.4],[21.4,-46.7],[24.8,-49.6],[22,-49.6],[27.5,-49.6],[30.8,-51],[20.8,-49],[28.8,-53.3],[29.5,-55.6],[26.1,-51.9],[44,-42.5],[46.9,-43],[50,-41.4],[48.3,-43.7],[45.6,-45.2],[50.9,-44.4],[40.9,-47.7],[47.6,-46.6],[50.3,-47.4],[53,-46.6],[55,-47.4],[44.2,-49],[46.2,-50.4],[49,-50.4],[52.3,-51.9],[54.3,-51],[41.6,-54],[42.9,-51],[45,-52.6],[47.6,-53.3],[50.3,-52.6],[40.2,-54],[43.6,-55.6],[46.2,-56.3],[49,-55.6],[54.3,-54.8],[38.9,-57.8],[42.2,-57.8],[44.9,-58.6],[47.6,-60],[52.3,-57.4],[36.2,-60],[46.6,-63],[44.2,-60.8],[49.6,-60],
[-40.5,39.5],[-39,36],[-41,36.5],[-37.5,35],[-20.5,62.5],[-19,63.5],[-20,61],[-18.5,60],[-21.5,60.5],[-3,84],[-2,84],[1,88],[2,90],[0,90],[-4,87],[1,86],[8,83],[9.5,82.5],[8,85],[11,83],[9,79],[7,87],[11.5,86],[30,58.5],[33,57],[35,56],[32,59],[31,55],[35.5,53],[5.5,41.5],[7,42.5],[11.5,39],[13,37.5],[13.5,40.5],[9,40],[8,34.5],[35,18],[33,15],[38,18.5],[92,6.5],[93,9.5],[90,7],[92,5],[57,3.5],[58,1.5],[62.5,5],[65,1],[52.5,0.5],[60,-1],[62,-5],[66,5],[68.5,0.5],[61,4],[55,7],[59.5,8.5],[66.5,8],[71,1],[55.5,-4],[67.5,-5],[61,-6],[64,-8.5],[58.5,-6],[5.5,14],[6,9],[10,6.5],[3.5,7],[6.5,1],[2,2],[11,-3],[9,3.5],[13.5,3],[6,-2],[8,-5],[-53,3],[-54,-2],[-56,0.5],[-52.5,0],[31.5,-20],[33,-18],[22,-41],[26,-42],[30,-42],[33,-43],[25,-47],[28.5,-47.5],[32,-45],[36,-44.5],[23,-45],[27,-52],[23,-50.5],[31,-37.5],[35,-35.5],[21,-45],[46,-46],[48.5,-48.5],[44,-46],[51.5,-49],[43,-53.5],[49,-45],[45.5,-54.5],[47,-58],[44,-56.5],[51,-54.5],[48.5,-51.5]];

const starsA: P[] = [[-39.9,21],[-14.4,2.8],[1.3,67.5],[5.9,4.2],[-2.6,-0.4],[40.7,-14.3],[-0.8,-27.2],[48.3,-50.7]];
const starsB: P[] = [[-8.9,66],[-13.6,51],[-5.9,15.7],[25,6.9],[-68.3,-13.4],[-19.8,-16.6],[-31.3,-39.1]];
const xTicksA = [-75,-50,-25,0,25,50,75];
const yTicksA = [-80,-60,-40,-20,0,20,40,60,80];
const xTicksB = [-100,-75,-50,-25,0,25,50,75,100];
const yTicksB = [-75,-50,-25,0,25,50,75,100];
const captionA = "(a) Without physical rules";
const captionB = "(b) With 4 physical rules";

const COLORS = { dark:"#440154", indigo:"#482878", blue:"#3b528b", cyan:"#2a788e", teal:"#1f9e89", green:"#4ac16d", lime:"#a0da39", yellow:"#fde725" };

type Layer = { pts: P[]; color: string };
function Panel({ left, right, top, bottom, xDomain, yDomain, xTicks, yTicks, layers, stars, caption, captionY, captionSize }: any) {
  const x = d3.scaleLinear().domain(xDomain).range([left, right]);
  const y = d3.scaleLinear().domain(yDomain).range([bottom, top]);
  const star = d3.symbol().type(d3.symbolStar).size(30)() as string;
  const fmt = (v: number) => (v < 0 ? "\u2212" + Math.abs(v) : String(v));
  return (
    <g>
      {xTicks.map((t: number) => <line key={"gx"+t} x1={x(t)} x2={x(t)} y1={top} y2={bottom} stroke="#b0b0b0" strokeOpacity={0.3} strokeWidth={0.9} />)}
      {yTicks.map((t: number) => <line key={"gy"+t} y1={y(t)} y2={y(t)} x1={left} x2={right} stroke="#b0b0b0" strokeOpacity={0.2} strokeWidth={1} />)}
      {layers.map((l: Layer, i: number) => (
        <g key={i} fill={l.color} fillOpacity={0.85}>
          {l.pts.map((p, j) => <circle key={j} cx={x(p[0])} cy={y(p[1])} r={3.4} />)}
        </g>
      ))}
      {stars.map((s: P, i: number) => (
        <path key={i} d={star} transform={`translate(${x(s[0])},${y(s[1])})`} fill="#f00010" stroke="#000" strokeWidth={2} strokeLinejoin="miter" />
      ))}
      <rect x={left} y={top} width={right-left} height={bottom-top} fill="none" stroke="#666" strokeWidth={1.1} />
      {xTicks.map((t: number) => (
        <g key={"tx"+t}>
          <line x1={x(t)} x2={x(t)} y1={bottom} y2={bottom+3} stroke="#444" strokeWidth={0.8} />
          <text x={x(t)} y={bottom+12} textAnchor="middle" fontSize={7.6} fontFamily="DejaVu Sans" fill="#333">{fmt(t)}</text>
        </g>
      ))}
      {yTicks.map((t: number) => (
        <g key={"ty"+t}>
          <line x1={left-3} x2={left} y1={y(t)} y2={y(t)} stroke="#444" strokeWidth={0.8} />
          <text x={left-5} y={y(t)+2.8} textAnchor="end" fontSize={7.6} fontFamily="DejaVu Sans" fill="#333">{fmt(t)}</text>
        </g>
      ))}
      <text x={275.5} y={captionY} textAnchor="middle" fontSize={captionSize} fontFamily="Liberation Serif" fill="#111">{caption}</text>
    </g>
  );
}

export default function App() {
  return (
    <svg width={552} height={951} viewBox="0 0 552 951" style={{ position: "absolute", left: 0, top: 0, background: "#fff" }}>
      <Panel left={26.5} right={551.5} top={2.5} bottom={419} xDomain={[-93.4,96.3]} yDomain={[-86.2,87.6]} xTicks={xTicksA} yTicks={yTicksA}
        layers={[{pts:yellowA,color:COLORS.yellow},{pts:tealA,color:COLORS.teal},{pts:greenA,color:COLORS.green},{pts:cyanA,color:COLORS.cyan},{pts:blueA,color:COLORS.blue},{pts:indigoA,color:COLORS.indigo},{pts:darkA,color:COLORS.dark},{pts:limeA,color:COLORS.lime}]}
        stars={starsA} caption={captionA} captionY={471} captionSize={23} />
      <Panel left={29.5} right={550} top={484} bottom={895.3} xDomain={[-103.2,106.2]} yDomain={[-84.4,99.9]} xTicks={xTicksB} yTicks={yTicksB}
        layers={[{pts:yellowB,color:COLORS.yellow},{pts:cyanB,color:COLORS.cyan},{pts:greenB,color:COLORS.green},{pts:darkB,color:COLORS.dark}]}
        stars={starsB} caption={captionB} captionY={944} captionSize={23} />
    </svg>
  );
}
